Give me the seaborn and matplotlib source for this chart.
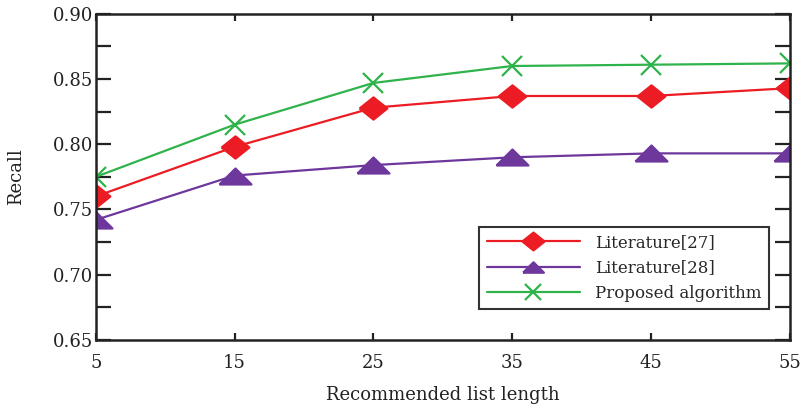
import numpy as np
import pandas as pd
import matplotlib
matplotlib.use("Agg")
import matplotlib.pyplot as plt
import seaborn as sns
from matplotlib.ticker import MultipleLocator

# values
list_length = [5, 15, 25, 35, 45, 55]
lit27 = [0.760, 0.798, 0.828, 0.837, 0.837, 0.843]
lit28 = [0.742, 0.776, 0.784, 0.790, 0.793, 0.793]
proposed = [0.775, 0.815, 0.847, 0.860, 0.861, 0.862]
series_names = ["Literature[27]", "Literature[28]", "Proposed algorithm"]

df = pd.DataFrame({
    "length": list_length * 3,
    "recall": lit27 + lit28 + proposed,
    "method": np.repeat(series_names, len(list_length)),
})

sns.set_style("white")
plt.rcParams["font.family"] = ["DejaVu Serif"]

fig = plt.figure(figsize=(8.05, 4.07), dpi=100)
ax = fig.add_axes([0.119, 0.165, 0.862, 0.801])

# slightly flattened shapes, as in the figure
wide_diamond = [(-1, 0), (0, 0.8), (1, 0), (0, -0.8), (-1, 0)]
flat_triangle = [(-1, -0.5), (0, 0.5), (1, -0.5), (-1, -0.5)]

palette = {"Literature[27]": "#ec1c24", "Literature[28]": "#6d379c",
           "Proposed algorithm": "#2fb34b"}
markers = {"Literature[27]": wide_diamond, "Literature[28]": flat_triangle,
           "Proposed algorithm": "x"}
sizes = {"Literature[27]": 20, "Literature[28]": 23, "Proposed algorithm": 14}

for name in series_names:
    sub = df[df["method"] == name]
    sns.lineplot(data=sub, x="length", y="recall", ax=ax, color=palette[name],
                 marker=markers[name], markersize=sizes[name],
                 markeredgecolor=palette[name], markeredgewidth=1.6,
                 linewidth=1.6, label=name)

ax.set_xlim(5, 55)
ax.set_ylim(0.65, 0.90)
ax.set_xticks(list_length)
ax.yaxis.set_major_locator(MultipleLocator(0.05))
ax.yaxis.set_minor_locator(MultipleLocator(0.025))
ax.set_yticklabels(["%.2f" % v for v in ax.get_yticks()])

ax.tick_params(axis="x", which="both", direction="in", bottom=True, top=True,
               length=5, width=1.6, labelsize=13, pad=10, colors="#222222")
ax.tick_params(axis="y", which="both", direction="in", left=True, right=True,
               length=11, width=1.6, labelsize=13, pad=2, colors="#222222")

for s in ax.spines.values():
    s.set_linewidth(1.8)
    s.set_color("#222222")

ax.set_xlabel("Recommended list length", fontsize=13, labelpad=10,
              color="#222222")
ax.set_ylabel("Recall", fontsize=13, labelpad=20, color="#222222")

leg = ax.legend(loc="lower right", bbox_to_anchor=(0.982, 0.068), fontsize=12,
                frameon=True, fancybox=False, edgecolor="black",
                handlelength=5.6, borderpad=0.45, labelspacing=0.5,
                handletextpad=0.9)
leg.get_frame().set_linewidth(1.5)
for h, ms in zip(leg.legend_handles, [16, 15, 12]):
    h.set_markersize(ms)

fig.savefig("out.png", dpi=100)
